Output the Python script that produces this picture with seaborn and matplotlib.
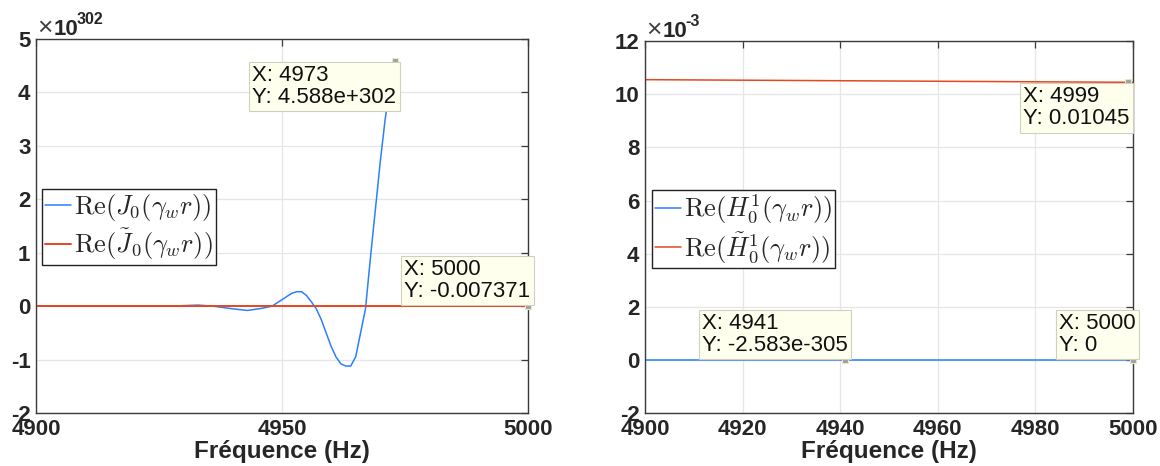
import numpy as np
import pandas as pd
import matplotlib
matplotlib.use('Agg')
import matplotlib.pyplot as plt
import seaborn as sns

# --- donnees ---
# panneau gauche : Re(J0) en unites de 1e302
freq_j = [4900, 4910, 4920, 4928, 4930, 4933, 4936, 4940, 4943, 4946, 4948,
          4950, 4952, 4953, 4954, 4955, 4956, 4957, 4958, 4959, 4960, 4961,
          4962, 4963, 4964, 4965, 4966, 4967, 4968, 4969, 4970, 4971, 4972, 4973]
re_j0 = [0.0, 0.0, 0.0, 0.0, 0.01, 0.02, 0.0, -0.05, -0.08, -0.04, 0.0,
         0.12, 0.24, 0.27, 0.27, 0.2, 0.08, -0.05, -0.25, -0.5, -0.75, -0.95,
         -1.08, -1.12, -1.12, -0.95, -0.5, -0.05, 0.9, 1.8, 2.7, 3.5, 4.1, 4.588]
freq_jt = [4900, 4950, 5000]
re_j0_tilde = [0.0, 0.0, 0.0]

# panneau droit : Re(H0^1) en unites de 1e-3
freq_h = [4900, 4950, 5000]
re_h01 = [0.0, 0.0, 0.0]
re_h01_tilde = [10.55, 10.50, 10.45]

xticks_left = [4900, 4950, 5000]
yticks_left = [-2, -1, 0, 1, 2, 3, 4, 5]
xticks_right = [4900, 4920, 4940, 4960, 4980, 5000]
yticks_right = [-2, 0, 2, 4, 6, 8, 10, 12]

# data tips (x, y affiche, texte)
tips_left = [(4973, 4.588, 'X: 4973\nY: 4.588e+302', 'top'),
             (5000, 0.0, 'X: 5000\nY: -0.007371', 'bottom')]
tips_right = [(4999, 10.45, 'X: 4999\nY: 0.01045', 'top'),
              (4941, 0.0, 'X: 4941\nY: -2.583e-305', 'bottom'),
              (5000, 0.0, 'X: 5000\nY: 0', 'bottom')]

BLUE = '#2a80ff'
RED = '#e5481f'
TXT = '#262626'

sns.set_theme(style='whitegrid')
plt.rcParams['font.family'] = ['Liberation Sans', 'DejaVu Sans']
plt.rcParams['mathtext.fontset'] = 'cm'
plt.rcParams['axes.unicode_minus'] = False

fig = plt.figure(figsize=(11.6, 4.66), dpi=100)
ax1 = fig.add_axes([0.031, 0.1137, 0.424, 0.8026])
ax2 = fig.add_axes([0.556, 0.1137, 0.4207, 0.798])


def style_axes(ax, xticks, yticks, xlim, ylim):
    ax.set_xlim(*xlim)
    ax.set_ylim(*ylim)
    ax.set_xticks(xticks)
    ax.set_yticks(yticks)
    ax.set_facecolor('white')
    ax.grid(True, color='#e6e6e6', lw=0.9)
    for s in ax.spines.values():
        s.set_color('#3a3a3a')
        s.set_linewidth(1.0)
    ax.tick_params(direction='in', length=5, width=0.9, color='#3a3a3a',
                   top=True, right=True, labelsize=16, labelcolor=TXT, pad=4)
    for lab in ax.get_xticklabels() + ax.get_yticklabels():
        lab.set_fontweight('bold')
    ax.set_xlabel('Fréquence (Hz)', fontsize=17.5, fontweight='bold', color=TXT, labelpad=0)
    ax.set_ylabel('')


def offset_text(ax, expo):
    ax.annotate('×', xy=(0, 1), xycoords='axes fraction', xytext=(1, 3),
                textcoords='offset points', ha='left', va='baseline',
                fontsize=19, color='#404040', fontweight='light')
    ax.annotate('10', xy=(0, 1), xycoords='axes fraction', xytext=(13, 3),
                textcoords='offset points', ha='left', va='baseline',
                fontsize=16, color=TXT, fontweight='bold')
    ax.annotate(expo, xy=(0, 1), xycoords='axes fraction', xytext=(29, 11),
                textcoords='offset points', ha='left', va='baseline',
                fontsize=11.5, color=TXT, fontweight='bold')


def data_tip(ax, x, y, txt, where):
    ax.plot([x], [y], marker='s', ms=4, color='#a0a0a0', mec='#e8e8c8',
            mew=0.8, ls='none', zorder=6, clip_on=False)
    if where == 'top':
        off, va = (1, -3), 'top'
    else:
        off, va = (2, 3), 'bottom'
    ax.annotate(txt, xy=(x, y), xytext=off, textcoords='offset points',
                ha='right', va=va, multialignment='left', fontsize=16,
                color='#111111', linespacing=1.05, zorder=7,
                bbox=dict(boxstyle='square,pad=0.15', fc='#ffffee',
                          ec='#d0d0c0', lw=0.8))


# panneau gauche
sns.lineplot(x=freq_j, y=re_j0, ax=ax1, color=BLUE, lw=1.1,
             label=r'$\mathrm{Re}(J_0(\gamma_w r))$', sort=False)
sns.lineplot(x=freq_jt, y=re_j0_tilde, ax=ax1, color=RED, lw=1.4,
             label=r'$\mathrm{Re}(\tilde{J}_0(\gamma_w r))$', sort=False)
style_axes(ax1, xticks_left, yticks_left, (4900, 5000), (-2, 5))
offset_text(ax1, '302')
for x, y, t, w in tips_left:
    data_tip(ax1, x, y, t, w)

# panneau droit
sns.lineplot(x=freq_h, y=re_h01, ax=ax2, color=BLUE, lw=1.1,
             label=r'$\mathrm{Re}(H_0^1(\gamma_w r))$', sort=False)
sns.lineplot(x=freq_h, y=re_h01_tilde, ax=ax2, color=RED, lw=1.1,
             label=r'$\mathrm{Re}(\tilde{H}_0^1(\gamma_w r))$', sort=False)
style_axes(ax2, xticks_right, yticks_right, (4900, 5000), (-2, 12))
offset_text(ax2, '-3')
for x, y, t, w in tips_right:
    data_tip(ax2, x, y, t, w)

for ax, anchor in ((ax1, (0.012, 0.6)), (ax2, (0.014, 0.6))):
    leg = ax.legend(loc='upper left', bbox_to_anchor=anchor, fontsize=19,
                    frameon=True, fancybox=False, framealpha=1,
                    handlelength=1.0, handletextpad=0.1, borderpad=0.12,
                    labelspacing=0.15, borderaxespad=0)
    leg.get_frame().set_edgecolor('#222222')
    leg.get_frame().set_linewidth(1.0)
    leg.set_zorder(8)

fig.savefig('out.png', dpi=100)
